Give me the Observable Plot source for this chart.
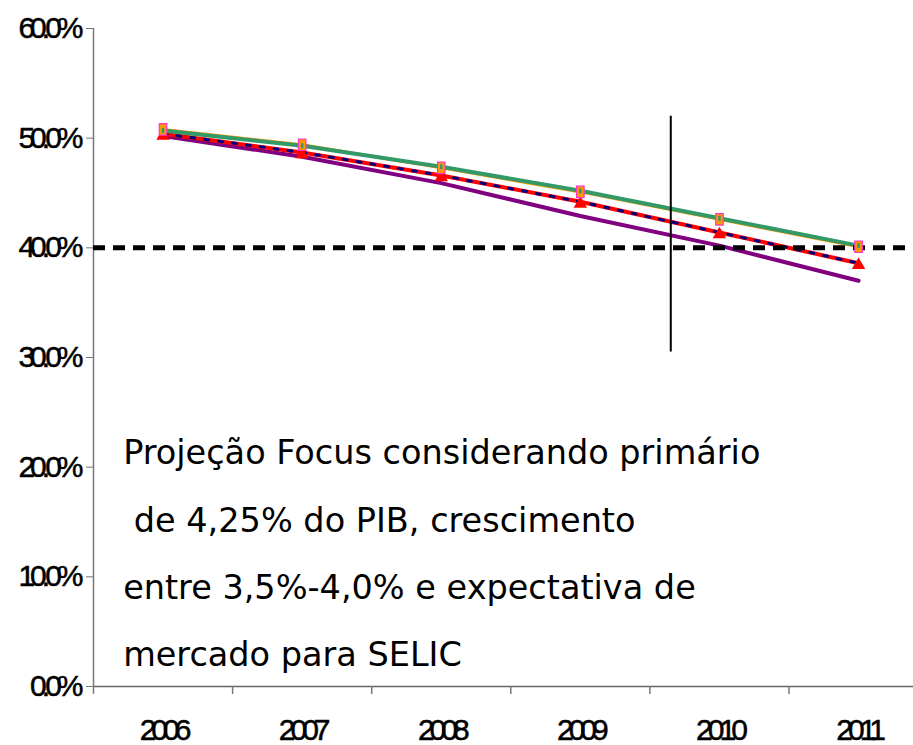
<!DOCTYPE html>
<html>
<head>
<meta charset="utf-8">
<script src="https://cdn.jsdelivr.net/npm/d3@7"></script>
<script src="https://cdn.jsdelivr.net/npm/@observablehq/plot@0.6"></script>
<style>
  html, body { margin: 0; padding: 0; background: #fff; }
  #chart svg { display: block; }
  #chart g[aria-label="x-axis tick label"] text,
  #chart g[aria-label="y-axis tick label"] text {
    font-family: "Liberation Sans", Arial, sans-serif;
    font-size: 30px;
    letter-spacing: -5px;
    stroke: #000;
    stroke-width: 0.5px;
  }
</style>
</head>
<body>
<div id="chart"></div>
<script>
// Dívida líquida / PIB (%), projeções 2006–2011
const years = [2006, 2007, 2008, 2009, 2010, 2011];
const yTicks = [0, 10, 20, 30, 40, 50, 60];
const sepTicks = [2006.5, 2007.5, 2008.5, 2009.5, 2010.5];

const serieLaranja = [50.8, 49.4, 47.3, 45.1, 42.6, 40.1];
const serieVerde   = [50.7, 49.3, 47.4, 45.2, 42.7, 40.2];
const serieVermelha = [50.4, 48.7, 46.6, 44.2, 41.4, 38.6];
const serieAzul    = [50.4, 48.7, 46.6, 44.2, 41.4, 38.6];
const serieRoxa    = [50.2, 48.3, 45.9, 42.9, 40.2, 37.0];

const meta = 40;              // linha de referência tracejada
const marcoX = 2009.65;        // linha vertical de separação
const marcoY = [30.5, 52.0];

const notaLinhas = [
  "Projeção Focus considerando primário",
  "\u00a0de 4,25% do PIB, crescimento",
  "entre 3,5%-4,0% e expectativa de",
  "mercado para SELIC"
];
const notaX = 2005.713;
const notaY = [20.33, 14.13, 8.02, 1.91];

const toRows = (vals) => years.map((year, i) => ({year, value: vals[i]}));
const nota = notaLinhas.map((text, i) => ({text, x: notaX, y: notaY[i]}));

// marcador retangular alongado
const tallRect = (w, h) => ({draw(ctx) { ctx.rect(-w / 2, -h / 2, w, h); }});

const chart = Plot.plot({
  width: 913,
  height: 745,
  marginLeft: 93,
  marginRight: 0,
  marginTop: 28,
  marginBottom: 59,
  style: {background: "#fff", overflow: "visible"},
  x: {type: "linear", domain: [2005.5, 2011.395]},
  y: {domain: [0, 60]},
  marks: [
    // eixos
    Plot.ruleY([0], {stroke: "#666", strokeWidth: 1.5}),
    Plot.ruleX([2005.5], {y1: -0.7, y2: 60, stroke: "#777", strokeWidth: 1.5}),
    Plot.axisX({ticks: sepTicks, tickFormat: () => "", tickSize: 8, stroke: "#777", strokeWidth: 1.5}),
    Plot.axisX({ticks: years, tickFormat: d => String(d), tickSize: 0, tickPadding: 32, fill: "#000"}),
    Plot.axisY({ticks: yTicks, tickFormat: d => d.toFixed(1) + "%", tickSize: 7, tickPadding: 8,
      stroke: "#777", fill: "#000"}),

    // séries
    Plot.line(toRows(serieRoxa), {x: "year", y: "value", stroke: "#800080", strokeWidth: 4}),
    Plot.line(toRows(serieVermelha), {x: "year", y: "value", stroke: "#ff0000", strokeWidth: 4}),
    Plot.line(toRows(serieAzul), {x: "year", y: "value", stroke: "#000080", strokeWidth: 3, strokeDasharray: "4,10"}),
    Plot.line(toRows(serieLaranja), {x: "year", y: "value", stroke: "#ff9900", strokeWidth: 3}),
    Plot.line(toRows(serieVerde), {x: "year", y: "value", stroke: "#339966", strokeWidth: 4}),

    // referência de 40%
    Plot.ruleY([meta], {stroke: "#000", strokeWidth: 5, strokeDasharray: "12,8"}),

    // marcadores
    Plot.dot(toRows(serieVermelha), {x: "year", y: "value", symbol: "triangle", r: 5, fill: "#ff0000", dy: 2}),
    Plot.dot(toRows(serieLaranja), {x: "year", y: "value", symbol: tallRect(7.5, 11.5), fill: "#ff9900", stroke: "#ff33cc", strokeWidth: 1.2}),
    Plot.dot(toRows(serieVerde), {x: "year", y: "value", symbol: tallRect(2.5, 5), fill: "#339966"}),

    // linha vertical
    Plot.ruleX([marcoX], {y1: marcoY[0], y2: marcoY[1], stroke: "#000", strokeWidth: 2}),

    // nota
    Plot.text(nota, {x: "x", y: "y", text: "text", textAnchor: "start", lineAnchor: "bottom",
      fontFamily: "DejaVu Sans, Verdana, sans-serif", fontSize: 33.5, fill: "#000"})
  ]
});

document.getElementById("chart").appendChild(chart);
</script>
</body>
</html>
